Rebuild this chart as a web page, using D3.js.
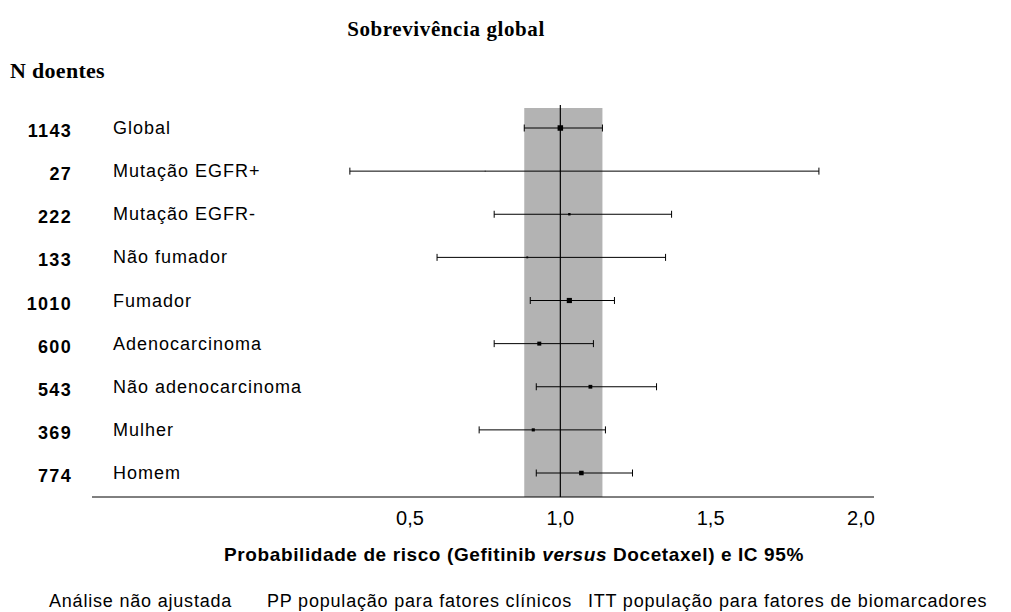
<!DOCTYPE html>
<html>
<head>
<meta charset="utf-8">
<script src="https://cdn.jsdelivr.net/npm/d3@7"></script>
<style>
  body { margin: 0; background: #fff; }
  svg { display: block; }
</style>
</head>
<body>
<div id="chart"></div>
<script>
// subgroup rows, top to bottom
const categories = ["Global", "Mutação EGFR+", "Mutação EGFR-", "Não fumador", "Fumador",
  "Adenocarcinoma", "Não adenocarcinoma", "Mulher", "Homem"];
const nPatients = [1143, 27, 222, 133, 1010, 600, 543, 369, 774];
// hazard ratio and 95% CI
const hazardRatio = [1.00, 0.75, 1.03, 0.89, 1.03, 0.93, 1.10, 0.91, 1.07];
const ciLow = [0.88, 0.30, 0.78, 0.59, 0.90, 0.78, 0.92, 0.73, 0.92];
const ciHigh = [1.14, 1.86, 1.37, 1.35, 1.18, 1.11, 1.32, 1.15, 1.24];
const tickValues = [0.5, 1.0, 1.5, 2.0];
const legendItems = ["Análise não ajustada", "PP população para fatores clínicos", "ITT população para fatores de biomarcadores"];

const width = 1011, height = 612;
const sans = "'Liberation Sans', Arial, sans-serif";
const serif = "'Liberation Serif', 'Times New Roman', serif";

const svg = d3.select("#chart").append("svg")
  .attr("width", width).attr("height", height);

const x = d3.scaleLinear().domain([0.5, 2.0]).range([410, 861]);
const y = d3.scalePoint().domain(categories).range([128, 473]);
const size = d3.scaleSqrt().domain([0, 1143]).range([0, 5.5]);

const rows = categories.map((c, i) => ({
  name: c, n: nPatients[i], hr: hazardRatio[i], lo: ciLow[i], hi: ciHigh[i]
}));

// global CI band and line of no effect
const axisY = 497;
svg.append("rect")
  .attr("x", x(ciLow[0])).attr("y", 108)
  .attr("width", x(ciHigh[0]) - x(ciLow[0])).attr("height", axisY - 108)
  .attr("fill", "#b3b3b3");

svg.append("line")
  .attr("x1", x(1)).attr("x2", x(1)).attr("y1", 105).attr("y2", axisY)
  .attr("stroke", "#000").attr("stroke-width", 1.2);

// x axis: plain line, no ticks
svg.append("line")
  .attr("x1", 92).attr("x2", 874).attr("y1", axisY).attr("y2", axisY)
  .attr("stroke", "#000").attr("stroke-width", 1);

svg.append("g").selectAll("text")
  .data(tickValues).enter().append("text")
  .attr("x", d => x(d)).attr("y", 525)
  .attr("text-anchor", "middle")
  .style("font-family", sans).style("font-size", "20px")
  .text(d => d3.format(".1f")(d).replace(".", ","));

// CI whiskers
const g = svg.append("g").selectAll("g")
  .data(rows).enter().append("g")
  .attr("transform", d => "translate(0," + y(d.name) + ")");

g.append("line")
  .attr("x1", d => x(d.lo)).attr("x2", d => x(d.hi))
  .attr("stroke", "#000").attr("stroke-width", 1);
g.append("line")
  .attr("x1", d => x(d.lo)).attr("x2", d => x(d.lo))
  .attr("y1", -3.5).attr("y2", 3.5)
  .attr("stroke", "#000").attr("stroke-width", 1);
g.append("line")
  .attr("x1", d => x(d.hi)).attr("x2", d => x(d.hi))
  .attr("y1", -3.5).attr("y2", 3.5)
  .attr("stroke", "#000").attr("stroke-width", 1);
g.append("rect")
  .attr("x", d => x(d.hr) - size(d.n) / 2)
  .attr("y", d => -size(d.n) / 2)
  .attr("width", d => size(d.n)).attr("height", d => size(d.n))
  .attr("fill", "#000");

// left columns
g.append("text")
  .attr("x", 72).attr("y", 9)
  .attr("text-anchor", "end")
  .style("font-family", sans).style("font-weight", "bold")
  .style("font-size", "18px").style("letter-spacing", "1.3px")
  .text(d => d.n);

g.append("text")
  .attr("x", 113).attr("y", 6)
  .style("font-family", sans).style("font-size", "18px")
  .style("letter-spacing", "1px")
  .text(d => d.name);

// titles
svg.append("text")
  .attr("x", 446).attr("y", 36).attr("text-anchor", "middle")
  .style("font-family", serif).style("font-weight", "bold").style("font-size", "21px")
  .style("letter-spacing", "0.6px")
  .text("Sobrevivência global");

svg.append("text")
  .attr("x", 10).attr("y", 78)
  .style("font-family", serif).style("font-weight", "bold").style("font-size", "22px")
  .style("letter-spacing", "0.3px")
  .text("N doentes");

const xt = svg.append("text")
  .attr("x", 514).attr("y", 561).attr("text-anchor", "middle")
  .style("font-family", sans).style("font-weight", "bold").style("font-size", "19px")
  .style("letter-spacing", "0.6px");
xt.append("tspan").text("Probabilidade de risco (Gefitinib ");
xt.append("tspan").style("font-style", "italic").text("versus");
xt.append("tspan").text(" Docetaxel) e IC 95%");

// legend labels (no symbols in the original)
const legendX = [49, 267, 588];
svg.append("g").selectAll("text")
  .data(legendItems).enter().append("text")
  .attr("x", (d, i) => legendX[i]).attr("y", 607)
  .style("font-family", sans).style("font-size", "18px")
  .style("letter-spacing", "0.8px")
  .text(d => d);
</script>
</body>
</html>
